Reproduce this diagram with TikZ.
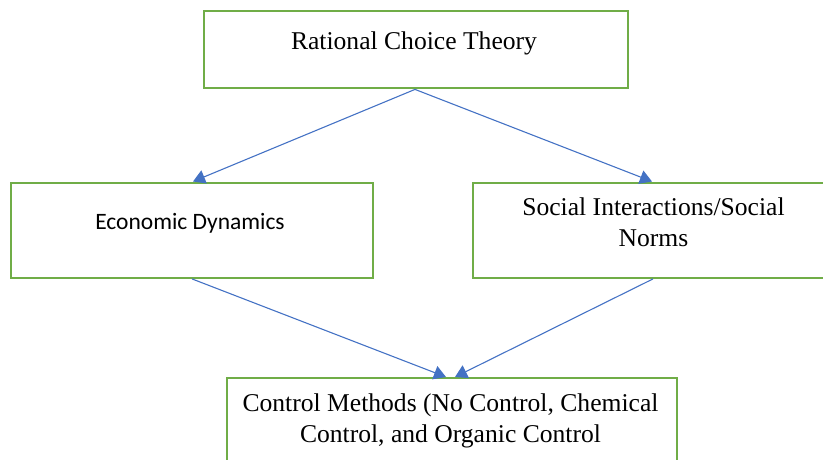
\documentclass[tikz,border=0pt]{standalone}
\usepackage{fontspec}
\setmainfont{Liberation Serif}
\newfontfamily\calibrifont{Carlito}
\usetikzlibrary{arrows.meta}
\definecolor{boxgreen}{HTML}{70AD47}
\definecolor{arrowblue}{HTML}{4472C4}
\begin{document}
\begin{tikzpicture}[x=1pt,y=-1pt,
  box/.style={draw=boxgreen, line width=2.4pt, fill=white, inner sep=0pt, anchor=north west},
  txt/.style={font=\fontsize{25.6}{31}\selectfont, inner sep=0pt, align=center},
  conn/.style={draw=arrowblue, line width=1.1pt, -{Triangle[length=12pt,width=14pt]}}]
\useasboundingbox (0,0) rectangle (823,459);
\clip (0,0) rectangle (823,459);
% boxes
\node[box, minimum width=424pt, minimum height=77pt] (top) at (203,10) {};
\node[box, minimum width=362pt, minimum height=95pt] (left) at (10,181.5) {};
\node[box, minimum width=362pt, minimum height=95pt] (right) at (472,181.5) {};
\node[box, minimum width=450pt, minimum height=120pt] (bottom) at (226,377) {};
% texts
\node[txt, anchor=base] (toptxt) at (414,49) {Rational Choice Theory};
\node[inner sep=0pt, anchor=base, font=\calibrifont\fontsize{23.5}{28}\selectfont] (lefttxt) at (190,229) {Economic Dynamics};
\node[txt, anchor=base] (righttxt) at (653.5,246) {Social Interactions/Social\\Norms};
\node[txt, anchor=base] (bottomtxt) at (450.5,442) {Control Methods (No Control, Chemical\\Control, and Organic Control};
% connector anchor points
\coordinate (topout) at ([xshift=212pt]top.south west);
\coordinate (leftin) at ([xshift=183pt]left.north west);
\coordinate (rightin) at ([xshift=180pt]right.north west);
\coordinate (leftout) at ([xshift=182pt]left.south west);
\coordinate (rightout) at ([xshift=181pt]right.south west);
\coordinate (botin1) at ([xshift=220pt]bottom.north west);
\coordinate (botin2) at ([xshift=229pt]bottom.north west);
\draw[conn] (topout) -- (leftin);
\draw[conn] (topout) -- (rightin);
\draw[conn] (leftout) -- (botin1);
\draw[conn] (rightout) -- (botin2);
\end{tikzpicture}
\end{document}
